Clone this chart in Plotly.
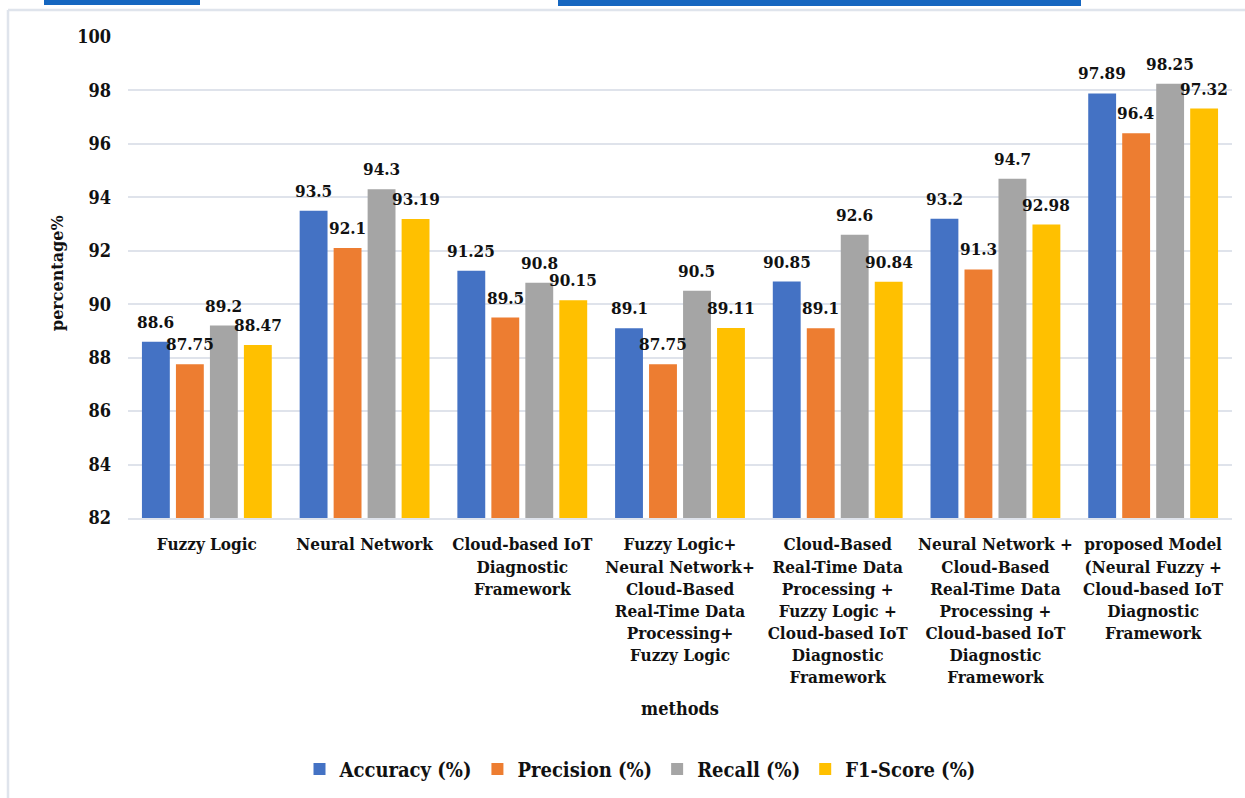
import plotly.graph_objects as go

categories = [
    "Fuzzy Logic",
    "Neural Network",
    "Cloud-based IoT<br>Diagnostic<br>Framework",
    "Fuzzy Logic+<br>Neural Network+<br>Cloud-Based<br>Real-Time Data<br>Processing+<br>Fuzzy Logic",
    "Cloud-Based<br>Real-Time Data<br>Processing +<br>Fuzzy Logic +<br>Cloud-based IoT<br>Diagnostic<br>Framework",
    "Neural Network +<br>Cloud-Based<br>Real-Time Data<br>Processing +<br>Cloud-based IoT<br>Diagnostic<br>Framework",
    "proposed Model<br>(Neural Fuzzy +<br>Cloud-based IoT<br>Diagnostic<br>Framework",
]
accuracy = [88.6, 93.5, 91.25, 89.1, 90.85, 93.2, 97.89]
precision = [87.75, 92.1, 89.5, 87.75, 89.1, 91.3, 96.4]
recall = [89.2, 94.3, 90.8, 90.5, 92.6, 94.7, 98.25]
f1_score = [88.47, 93.19, 90.15, 89.11, 90.84, 92.98, 97.32]
series_names = ["Accuracy (%)", "Precision (%)", "Recall (%)", "F1-Score (%)"]
series_values = [accuracy, precision, recall, f1_score]
y_ticks = [82, 84, 86, 88, 90, 92, 94, 96, 98, 100]

colors = ["#4472C4", "#ED7D31", "#A5A5A5", "#FFC000"]
SERIF = "DejaVu Serif"
SERIF_C = "DejaVu Serif Condensed, DejaVu Serif"
W, H = 1245, 798
ML, MR, MT, MB = 128, 13, 37, 280
PW, PH = W - ML - MR, H - MT - MB
BARGAP = 0.138
BARGROUPGAP = 0.18

fig = go.Figure()
for name, vals, c in zip(series_names, series_values, colors):
    fig.add_trace(go.Bar(
        x=categories, y=vals, name=name,
        marker=dict(color=c, line=dict(width=0)),
        cliponaxis=False,
    ))

cat_w = PW / len(categories)
slot = cat_w * (1 - BARGAP) / len(series_names)
annotations = []
for i, vals in enumerate(series_values):
    for cat, v in zip(categories, vals):
        annotations.append(dict(
            x=cat, y=v, xref="x", yref="y",
            text=f"<b>{v:g}</b>", showarrow=False,
            xshift=(i - (len(series_names) - 1) / 2) * slot,
            yshift=20, yanchor="middle",
            font=dict(family=SERIF_C, size=17, color="#111"),
        ))

def px_x(px):
    return (px - ML) / PW

def px_y(py):
    return (H - MB - py) / PH

annotations.append(dict(
    x=px_x(680), y=px_y(708), xref="paper", yref="paper",
    text="<b>methods</b>", showarrow=False, xanchor="center", yanchor="middle",
    font=dict(family=SERIF_C, size=18, color="#111"),
))
annotations.append(dict(
    x=px_x(57), y=px_y(273), xref="paper", yref="paper",
    text="<b>percentage%</b>", showarrow=False, textangle=-90,
    xanchor="center", yanchor="middle",
    font=dict(family=SERIF, size=16, color="#111"),
))

shapes = [
    dict(type="line", xref="paper", yref="paper",
         x0=px_x(8), x1=px_x(8), y0=px_y(10), y1=px_y(798),
         line=dict(color="#dfe4ec", width=2.5)),
    dict(type="line", xref="paper", yref="paper",
         x0=px_x(8), x1=px_x(1245), y0=px_y(10), y1=px_y(10),
         line=dict(color="#dfe4ec", width=2.5)),
    dict(type="rect", xref="paper", yref="paper",
         x0=px_x(44), x1=px_x(200), y0=px_y(0), y1=px_y(5),
         fillcolor="#1566c0", line=dict(width=0)),
    dict(type="rect", xref="paper", yref="paper",
         x0=px_x(558), x1=px_x(1081), y0=px_y(0), y1=px_y(6),
         fillcolor="#1566c0", line=dict(width=0)),
]

fig.update_layout(
    width=W, height=H,
    margin=dict(l=ML, r=MR, t=MT, b=MB, autoexpand=False),
    paper_bgcolor="white", plot_bgcolor="white",
    barmode="group", bargap=BARGAP, bargroupgap=BARGROUPGAP,
    font=dict(family=SERIF, size=16, color="#111"),
    showlegend=True,
    legend=dict(
        orientation="h", x=px_x(640), y=px_y(769),
        xanchor="center", yanchor="middle",
        font=dict(family=SERIF_C, size=20, color="#111"),
        itemwidth=30, tracegroupgap=0,
    ),
    xaxis=dict(
        showgrid=False, showline=True, linecolor="#dfe3eb", linewidth=2,
        ticks="", tickangle=0, automargin=False,
        tickvals=categories,
        ticktext=["<b>" + c.replace("<br>", "</b><br><b>") + "</b>" for c in categories],
        ticklabelstandoff=10,
        tickfont=dict(family=SERIF_C, size=17, color="#111"),
    ),
    yaxis=dict(
        range=[82, 100], tickvals=y_ticks, ticktext=[f"<b>{t}</b>" for t in y_ticks],
        showgrid=True, gridcolor="#dfe3eb", gridwidth=2,
        zeroline=False, showline=False, ticks="", automargin=False,
        ticklabelstandoff=16,
        tickfont=dict(family=SERIF_C, size=18, color="#111"),
    ),
    annotations=annotations,
    shapes=shapes,
)

for tr in fig.data:
    tr.name = f"<b>{tr.name}</b>"

fig.write_html("out.html")
